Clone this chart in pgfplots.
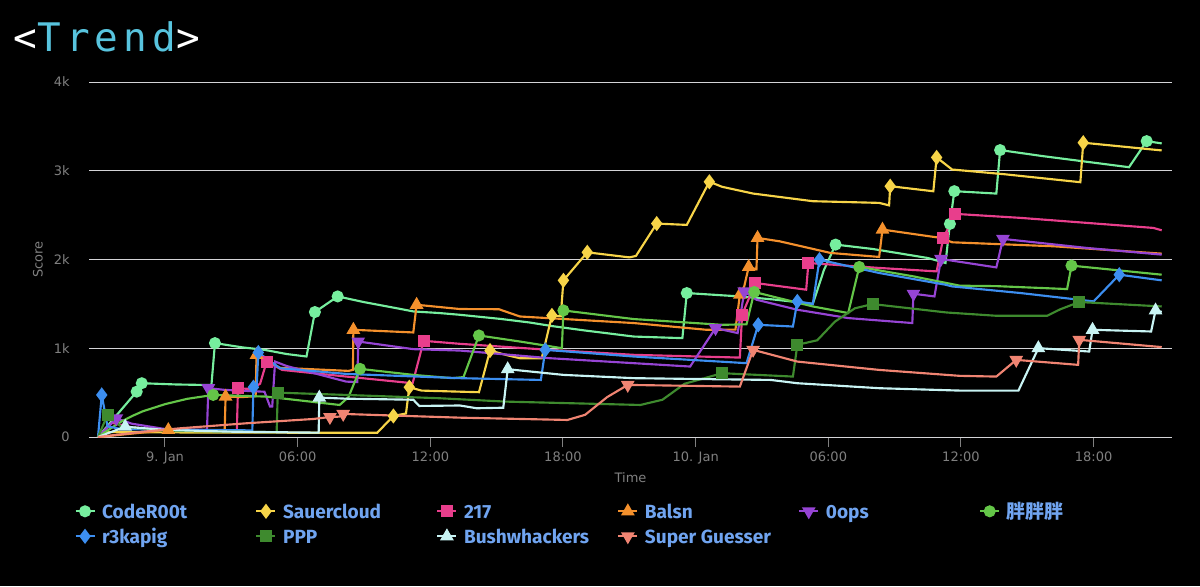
\documentclass[border=0pt]{standalone}
\usepackage{pgfplots}
\pgfplotsset{compat=1.18}
\usepackage{fontspec}
\setmainfont{DejaVu Sans}
\newfontfamily\legfont{Fira Sans}
\newfontfamily\cjk{Noto Sans CJK SC}
\newfontfamily\titlefont[LetterSpace=13]{DejaVu Sans Mono}
\definecolor{cCode}{RGB}{118,238,158}
\definecolor{cSauer}{RGB}{247,212,72}
\definecolor{cTwo}{RGB}{232,62,140}
\definecolor{cBalsn}{RGB}{244,144,44}
\definecolor{cOops}{RGB}{150,68,212}
\definecolor{cPang}{RGB}{100,198,72}
\definecolor{cR3}{RGB}{60,142,240}
\definecolor{cPPP}{RGB}{62,138,46}
\definecolor{cBush}{RGB}{200,244,244}
\definecolor{cSG}{RGB}{240,132,114}
\definecolor{gridc}{RGB}{212,212,215}
\definecolor{labc}{RGB}{128,128,128}
\definecolor{legc}{RGB}{112,164,240}
\definecolor{trendc}{RGB}{88,196,222}
\tikzset{
 sCode/.style={color=cCode, line width=1.6pt, mark=*, mark size=3.7pt, mark options={solid}},
 sSauer/.style={color=cSauer, line width=1.6pt, mark=diamond*, mark size=4.4pt, mark options={solid}},
 sTwo/.style={color=cTwo, line width=1.6pt, mark=square*, mark size=3.7pt, mark options={solid}},
 sBalsn/.style={color=cBalsn, line width=1.6pt, mark=triangle*, mark size=4.4pt, mark options={solid}},
 sOops/.style={color=cOops, line width=1.6pt, mark=triangle*, mark size=4.4pt, mark options={solid, rotate=180}},
 sPang/.style={color=cPang, line width=1.6pt, mark=*, mark size=3.7pt, mark options={solid}},
 sR3/.style={color=cR3, line width=1.6pt, mark=diamond*, mark size=4.4pt, mark options={solid}},
 sPPP/.style={color=cPPP, line width=1.6pt, mark=square*, mark size=3.7pt, mark options={solid}},
 sBush/.style={color=cBush, line width=1.6pt, mark=triangle*, mark size=4.4pt, mark options={solid}},
 sSG/.style={color=cSG, line width=1.6pt, mark=triangle*, mark size=4.4pt, mark options={solid, rotate=180}},
}
\newcommand{\legentry}[1]{\hspace{4.9pt}\makebox[114.95pt][l]{\textcolor{legc}{#1}}}
\begin{document}
\begin{tikzpicture}
\fill[black] (0,0) rectangle (900pt,-439.5pt);
\useasboundingbox (0,0) rectangle (900pt,-439.5pt);
\node[anchor=base west, inner sep=0pt] at (10pt,-38.5pt) {\titlefont\fontsize{29.5}{29.5}\selectfont\textcolor{white}{<}\textcolor{trendc}{Trend}\textcolor{white}{>}};
\begin{axis}[
 at={(66.75pt,-327.75pt)}, anchor=south west,
 scale only axis, width=812.25pt, height=266.25pt,
 xmin=-3.437, xmax=45.545, ymin=0, ymax=4000,
 axis x line*=bottom, axis y line*=left,
 x axis line style={-, color=gridc, line width=0.75pt},
 y axis line style={draw=none},
 ytick={0,1000,2000,3000,4000}, yticklabels={0,1k,2k,3k,4k},
 xtick={0,6,12,18,24,30,36,42},
 xticklabels={9. Jan,06:00,12:00,18:00,10. Jan,06:00,12:00,18:00},
 ymajorgrids, grid style={color=gridc, line width=0.75pt},
 tick align=outside, major tick length=7.5pt,
 xtick style={color=labc, line width=0.75pt},
 ytick style={draw=none},
 ticklabel style={font=\fontsize{9.75}{11}\selectfont, color=labc},
 yticklabel style={xshift=-3.5pt},
 xlabel={Time}, ylabel={Score},
 label style={font=\fontsize{9.75}{11}\selectfont, color=labc},
 xlabel style={at={(axis description cs:0.5,-0.1155)}, anchor=center},
 ylabel style={at={(axis description cs:-0.0471,0.5)}, anchor=center},
 legend columns=6,
 legend cell align=left,
 legend style={at={(axis description cs:-0.01339,-0.1831)}, anchor=north west, draw=none, fill=none, inner sep=0pt, outer sep=0pt, row sep=0pt, column sep=0pt, font=\legfont\bfseries\fontsize{14.3}{16}\selectfont, nodes={inner sep=0pt, outer sep=0pt, text height=12pt, text depth=6.75pt}},
 legend image code/.code={
   \draw[#1, mark=none] (0pt,2.4pt) -- (14.25pt,2.4pt);
   \draw[#1] plot coordinates {(7.125pt,2.4pt)};
 },
]
% CodeR00t
\addplot[sCode, mark=none, forget plot] coordinates {(-3.03,0) (-1.28,511) (-1.05,606) (0.5,592) (2.1,585) (2.26,1058) (3.5,1010) (4.5,982) (5.5,935) (6.4,907) (6.78,1408) (7.81,1584) (9,1520) (10.5,1450) (11.23,1415) (12.4,1397) (13.34,1377) (15.2,1330) (16.5,1290) (17.5,1250) (19,1200) (21.2,1132) (23.4,1114) (23.6,1622) (26,1584) (27.5,1550) (29.3,1500) (29.8,1880) (30.33,2168) (32,2119) (34.5,2017) (35.3,1961) (35.5,2401) (35.7,2770) (37.6,2743) (37.77,3233) (39.7,3165) (43.6,3040) (44.4,3334) (45.08,3308)};
\addplot[sCode, only marks, forget plot] coordinates {(-1.28,511) (-1.05,606) (2.26,1058) (6.78,1408) (7.81,1584) (23.6,1622) (30.33,2168) (35.5,2401) (35.7,2770) (37.77,3233) (44.4,3334)};
% Sauercloud
\addplot[sSauer, mark=none, forget plot] coordinates {(-3.03,0) (-2.8,55) (0,52) (3,50) (7,48) (9.6,48) (10.33,237) (10.9,265) (11.05,561) (11.6,523) (13.3,511) (14.2,505) (14.7,974) (15.5,920) (16.05,888) (17.04,888) (17.5,1370) (17.9,1362) (18.02,1765) (19.1,2081) (21.0,2024) (21.3,2040) (22.24,2405) (23.6,2390) (24.62,2876) (25.2,2819) (26.6,2743) (29.3,2657) (32.3,2638) (32.75,2610) (32.8,2826) (34.75,2769) (34.9,3150) (35.6,3014) (38,2960) (41.4,2871) (41.53,3316) (45.08,3229)};
\addplot[sSauer, only marks, forget plot] coordinates {(10.33,237) (11.05,561) (14.7,974) (17.5,1370) (18.02,1765) (19.1,2081) (22.24,2405) (24.62,2876) (32.8,2826) (34.9,3150) (41.53,3316)};
% 217
\addplot[sTwo, mark=none, forget plot] coordinates {(-3.03,0) (-2.4,160) (-1.5,110) (0,80) (3.25,70) (3.3,550) (3.9,540) (4.3,600) (4.6,850) (5.3,756) (8.2,681) (11.2,606) (11.7,1084) (13.34,1050) (16.9,990) (21.2,926) (26,895) (26.1,1377) (26.7,1735) (29,1660) (29.1,1961) (32.3,1905) (34.9,1866) (35.2,2243) (35.75,2514) (38.7,2469) (44.7,2356) (45.08,2329)};
\addplot[sTwo, only marks, forget plot] coordinates {(3.3,550) (4.6,850) (11.7,1084) (26.1,1377) (26.7,1735) (29.1,1961) (35.2,2243) (35.75,2514)};
% Balsn
\addplot[sBalsn, mark=none, forget plot] coordinates {(-3.03,0) (0.15,79) (1.5,80) (2.7,80) (2.74,455) (3.5,450) (4.1,460) (4.14,926) (5.2,780) (8.3,745) (8.5,756) (8.52,1208) (11.23,1178) (11.38,1490) (13.34,1442) (15.1,1440) (16.05,1358) (21.2,1284) (24.5,1208) (25.8,1210) (26,1603) (26.2,1700) (26.4,1916) (26.75,1890) (26.8,2243) (27.8,2205) (30.1,2074) (32.3,2029) (32.45,2337) (35.1,2243) (35.6,2194) (40.2,2149) (45.08,2066)};
\addplot[sBalsn, only marks, forget plot] coordinates {(0.15,79) (2.74,455) (4.14,926) (8.52,1208) (11.38,1490) (26,1603) (26.4,1916) (26.8,2243) (32.45,2337)};
% 0ops
\addplot[sOops, mark=none, forget plot] coordinates {(-3.03,0) (-2.2,211) (-1.5,150) (0,90) (1.9,80) (1.96,550) (2.7,531) (4.5,510) (4.75,344) (4.85,344) (4.98,850) (5.5,800) (8.2,624) (8.7,620) (8.74,1076) (11.23,990) (13.34,974) (17.4,888) (21.2,832) (23.75,794) (24.9,1227) (25.9,1171) (26.2,1640) (26.75,1547) (28.6,1434) (30.9,1340) (33.8,1284) (33.85,1614) (34.8,1584) (35.1,2006) (37.6,1911) (37.9,2232) (41.7,2130) (45.08,2055)};
\addplot[sOops, only marks, forget plot] coordinates {(-2.2,211) (1.96,550) (8.74,1076) (24.9,1227) (26.2,1640) (33.85,1614) (35.1,2006) (37.9,2232)};
% Pang
\addplot[sPang, mark=none, forget plot] coordinates {(-3.03,0) (-2.5,90) (-2,170) (-1.5,235) (-1,290) (0,370) (1,430) (2.18,474) (4.6,455) (7.9,361) (8.3,450) (8.82,768) (11.23,700) (13,663) (13.5,675) (14.2,1144) (16.05,1076) (17.95,1001) (18.02,1426) (21.2,1329) (25.2,1264) (26.3,1270) (26.65,1634) (29.3,1471) (30.9,1397) (31.4,1916) (33.85,1810) (35.95,1705) (37.6,1700) (40.8,1667) (41,1931) (45.08,1829)};
\addplot[sPang, only marks, forget plot] coordinates {(2.18,474) (8.82,768) (14.2,1144) (18.02,1426) (26.65,1634) (31.4,1916) (41,1931)};
% r3kapig
\addplot[sR3, mark=none, forget plot] coordinates {(-3.03,0) (-2.86,474) (-2.6,120) (-2,90) (0,80) (3.95,75) (4,561) (4.15,580) (4.22,952) (5.2,775) (8.2,711) (13.34,663) (17,643) (17.2,982) (21.2,907) (26.3,832) (26.83,1264) (28.4,1245) (28.6,1528) (29.3,1500) (29.6,1998) (32.3,1848) (35.3,1716) (35.6,1697) (38.7,1622) (42,1528) (43.16,1829) (45.08,1765)};
\addplot[sR3, only marks, forget plot] coordinates {(-2.86,474) (4,561) (4.22,952) (17.2,982) (26.83,1264) (28.6,1528) (29.6,1998) (43.16,1829)};
% PPP
\addplot[sPPP, mark=none, forget plot] coordinates {(-3.03,0) (-2.6,248) (-2,120) (0,70) (3,60) (5.05,55) (5.1,500) (8.2,474) (12.4,437) (15.4,399) (21.5,361) (22.5,420) (23.5,600) (25.2,719) (28.4,681) (28.6,1039) (29.5,1090) (30.3,1300) (31.2,1450) (32,1498) (35.35,1403) (37.6,1366) (39.9,1366) (40.5,1440) (41.35,1521) (45.08,1471)};
\addplot[sPPP, only marks, forget plot] coordinates {(-2.6,248) (5.1,500) (25.2,719) (28.6,1039) (32,1498) (41.35,1521)};
% Bushwhackers
\addplot[sBush, mark=none, forget plot] coordinates {(-3.03,0) (-1.8,116) (0,80) (3,60) (6.95,49) (6.98,444) (8.2,432) (11.23,420) (11.5,350) (13.34,355) (14.1,324) (15.3,330) (15.5,764) (18.02,700) (21.2,663) (27.4,643) (28.6,606) (32.3,550) (35.95,523) (38.6,523) (39.5,1001) (41.8,963) (41.95,1208) (44.6,1189) (44.8,1426) (45.08,1410)};
\addplot[sBush, only marks, forget plot] coordinates {(-1.8,116) (6.98,444) (15.5,764) (39.5,1001) (41.95,1208) (44.8,1426)};
% Super Guesser
\addplot[sSG, mark=none, forget plot] coordinates {(-3.03,0) (-2,30) (-1,60) (0.68,98) (3.7,155) (6.7,203) (7.46,225) (7.9,230) (8.06,260) (13.34,218) (18.2,192) (19,250) (20,450) (20.93,587) (26,568) (26.6,982) (28.6,850) (32.3,756) (35.95,689) (37.6,681) (38.5,869) (41.3,813) (41.35,1095) (45.08,1013)};
\addplot[sSG, only marks, forget plot] coordinates {(7.46,225) (8.06,260) (20.93,587) (26.6,982) (38.5,869) (41.35,1095)};
\addlegendimage{sCode}
\addlegendimage{sSauer}
\addlegendimage{sTwo}
\addlegendimage{sBalsn}
\addlegendimage{sOops}
\addlegendimage{sPang}
\addlegendimage{sR3}
\addlegendimage{sPPP}
\addlegendimage{sBush}
\addlegendimage{sSG}
\legend{\legentry{CodeR00t},\legentry{Sauercloud},\legentry{217},\legentry{Balsn},\legentry{0ops},\legentry{{\cjk\bfseries 胖胖胖}},\legentry{r3kapig},\legentry{PPP},\legentry{Bushwhackers},\legentry{Super Guesser}}
\end{axis}
\end{tikzpicture}
\end{document}
